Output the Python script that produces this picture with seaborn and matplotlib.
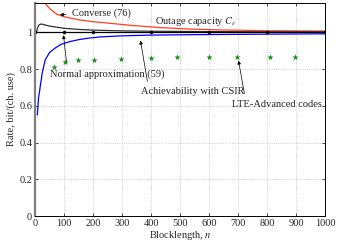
import matplotlib
matplotlib.use("Agg")
import matplotlib.pyplot as plt
import seaborn as sns
import numpy as np

# ---- data ----
# outage capacity (flat)
outage_n = [0, 100, 200, 400, 600, 800, 1000]
outage_r = [1.0, 1.0, 1.0, 1.0, 1.0, 1.0, 1.0]

# converse bound (76)
conv_n = [35, 50, 75, 100, 155, 200, 260, 330, 430, 530, 640, 800, 1000]
conv_r = [1.158, 1.13, 1.098, 1.085, 1.067, 1.058, 1.049, 1.038, 1.026, 1.018, 1.013, 1.009, 1.007]

# normal approximation (59)
norm_n = [5, 8, 12, 18, 23, 35, 50, 75, 100, 150, 200, 300, 400, 600, 800, 1000]
norm_r = [1.0, 1.02, 1.038, 1.044, 1.045, 1.04, 1.034, 1.028, 1.022, 1.016, 1.012, 1.008, 1.006, 1.004, 1.003, 1.003]

# achievability with CSIR
ach_n = [8, 12, 18, 25, 35, 50, 69, 90, 121, 150, 183, 224, 300, 400, 600, 800, 1000]
ach_r = [0.55, 0.64, 0.705, 0.78, 0.85, 0.89, 0.914, 0.935, 0.95, 0.96, 0.968, 0.975, 0.981, 0.985, 0.988, 0.99, 0.992]

# LTE-Advanced codes
lte_n = [65, 103, 148, 205, 297, 400, 490, 600, 697, 810, 897]
lte_r = [0.814, 0.84, 0.852, 0.852, 0.853, 0.862, 0.867, 0.868, 0.868, 0.864, 0.866]

xticks = list(range(0, 1001, 100))
yticks = [0, 0.2, 0.4, 0.6, 0.8, 1]

sns.set_style("ticks")
plt.rcParams['font.family'] = ['Liberation Serif', 'DejaVu Serif']
plt.rcParams['mathtext.fontset'] = 'stix'
plt.rcParams['font.size'] = 7.5

fig = plt.figure(figsize=(3.4, 2.45), dpi=100)
ax = fig.add_axes([0.103, 0.118, 0.853, 0.870])

sns.lineplot(x=conv_n, y=conv_r, ax=ax, color='#ff4020', linewidth=0.9)
sns.lineplot(x=norm_n, y=norm_r, ax=ax, color='#303030', linewidth=0.9)
sns.lineplot(x=ach_n, y=ach_r, ax=ax, color='#0000ff', linewidth=0.9)
sns.lineplot(x=outage_n, y=outage_r, ax=ax, color='black', linewidth=0.9,
             marker='o', markersize=2.5, markeredgewidth=0)
sns.scatterplot(x=lte_n, y=lte_r, ax=ax, color='#109010', marker='*', s=22,
                linewidth=0, zorder=5)

ax.set_xlim(0, 1000)
ax.set_ylim(0, 1.16)
ax.set_xticks(xticks)
ax.set_yticks(yticks)
ax.set_yticklabels(['0', '0.2', '0.4', '0.6', '0.8', '1'])
ax.grid(True, linestyle=':', color='#c0c0c0', linewidth=0.6)
ax.tick_params(direction='in', length=2.5, width=0.6, top=True, right=True,
               labelsize=7.5, pad=2)
for s in ax.spines.values():
    s.set_linewidth(0.7)
    s.set_color('black')
ax.spines['left'].set_color('#808080')
ax.spines['left'].set_linewidth(1.6)

ax.set_xlabel('Blocklength, $n$', fontsize=7.5, labelpad=1)
ax.set_ylabel('Rate, bit/(ch. use)', fontsize=7.5, labelpad=2)

arrow = dict(arrowstyle='-|>', color='black', lw=0.5, mutation_scale=5)
ax.annotate('Converse (76)', xy=(76, 1.095), xytext=(128, 1.106),
            va='center', ha='left', arrowprops=arrow)
ax.text(414, 1.057, r'Outage capacity $C_\epsilon$', va='center', ha='left')
ax.annotate('Normal approximation (59)', xy=(97, 1.0), xytext=(52, 0.774),
            va='center', ha='left', arrowprops=dict(arrow, relpos=(0.15, 1.0)))
ax.annotate('Achievability with CSIR', xy=(362, 0.97), xytext=(366, 0.676),
            va='center', ha='left', arrowprops=dict(arrow, relpos=(0.07, 1.0)))
ax.annotate('LTE-Advanced codes', xy=(700, 0.861), xytext=(679, 0.61),
            va='center', ha='left', arrowprops=dict(arrow, relpos=(0.15, 1.0)),
            annotation_clip=False)

fig.savefig('out.png', dpi=100)
